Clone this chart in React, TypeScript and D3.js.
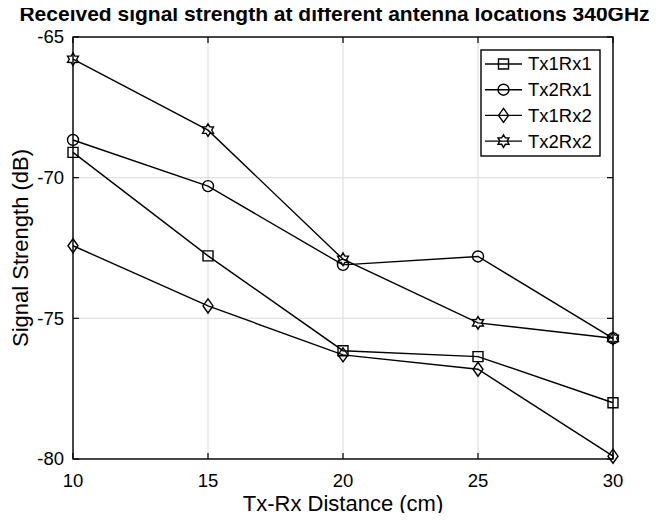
import * as d3 from 'd3';
import { useRef, useEffect } from 'react';

const distances = [10, 15, 20, 25, 30];
const seriesNames = ['Tx1Rx1', 'Tx2Rx1', 'Tx1Rx2', 'Tx2Rx2'];
const markerKinds = ['square', 'circle', 'diamond', 'hexagram'];
const tx1rx1 = [-69.1, -72.78, -76.15, -76.36, -78.0];
const tx2rx1 = [-68.66, -70.3, -73.1, -72.8, -75.71];
const tx1rx2 = [-72.42, -74.56, -76.3, -76.81, -79.9];
const tx2rx2 = [-65.79, -68.31, -72.9, -75.16, -75.71];
const xTicks = [10, 15, 20, 25, 30];
const yTicks = [-65, -70, -75, -80];

const FONT = '"Liberation Sans", Arial, Helvetica, sans-serif';

// chemin d'un marqueur centré sur (0,0)
const markerPath = (kind: string): string => {
  if (kind === 'square') return 'M-5,-5H5V5H-5Z';
  if (kind === 'circle') return 'M5.5,0A5.5,5.5 0 1,1 -5.5,0A5.5,5.5 0 1,1 5.5,0Z';
  if (kind === 'diamond') return 'M0,-7L5,0L0,7L-5,0Z';
  // hexagramme : étoile à six branches
  const pts: string[] = [];
  for (let i = 0; i < 12; i++) {
    const r = i % 2 === 0 ? 6.3 : 3.7;
    const a = (Math.PI / 6) * i - Math.PI / 2;
    pts.push(`${(r * Math.cos(a)).toFixed(2)},${(r * Math.sin(a)).toFixed(2)}`);
  }
  return `M${pts.join('L')}Z`;
};

export default function App() {
  const svgRef = useRef<SVGSVGElement | null>(null);

  useEffect(() => {
    const width = 663;
    const height = 521;
    const margin = { top: 37, right: 50, bottom: 62, left: 73 };
    const innerWidth = width - margin.left - margin.right;
    const innerHeight = height - margin.top - margin.bottom;

    const root = d3.select(svgRef.current);
    root.selectAll('*').remove();
    root.attr('width', width).attr('height', height);

    root
      .append('rect')
      .attr('width', width)
      .attr('height', height)
      .attr('fill', '#fff');

    const svg = root.append('g').attr('transform', `translate(${margin.left},${margin.top})`);

    const x = d3.scaleLinear().domain([10, 30]).range([0, innerWidth]);
    const y = d3.scaleLinear().domain([-80, -65]).range([innerHeight, 0]);

    // Grille
    xTicks.forEach((v) => {
      svg
        .append('line')
        .attr('x1', x(v))
        .attr('x2', x(v))
        .attr('y1', 0)
        .attr('y2', innerHeight)
        .attr('stroke', '#e0e0e0')
        .attr('stroke-width', 1.2);
    });
    yTicks.forEach((v) => {
      svg
        .append('line')
        .attr('x1', 0)
        .attr('x2', innerWidth)
        .attr('y1', y(v))
        .attr('y2', y(v))
        .attr('stroke', '#e0e0e0')
        .attr('stroke-width', 1.2);
    });

    // Marques des axes (vers l'intérieur)
    xTicks.forEach((v) => {
      [
        [innerHeight, innerHeight - 6],
        [0, 6],
      ].forEach(([a, b]) => {
        svg
          .append('line')
          .attr('x1', x(v))
          .attr('x2', x(v))
          .attr('y1', a)
          .attr('y2', b)
          .attr('stroke', '#000')
          .attr('stroke-width', 1.2);
      });
      svg
        .append('text')
        .attr('x', x(v))
        .attr('y', innerHeight + 28)
        .attr('text-anchor', 'middle')
        .attr('font-family', FONT)
        .attr('font-size', '18.5px')
        .attr('fill', '#000')
        .text(`${v}`);
    });
    yTicks.forEach((v) => {
      [
        [0, 6],
        [innerWidth, innerWidth - 6],
      ].forEach(([a, b]) => {
        svg
          .append('line')
          .attr('x1', a)
          .attr('x2', b)
          .attr('y1', y(v))
          .attr('y2', y(v))
          .attr('stroke', '#000')
          .attr('stroke-width', 1.2);
      });
      svg
        .append('text')
        .attr('x', -9)
        .attr('y', y(v))
        .attr('dy', '0.35em')
        .attr('text-anchor', 'end')
        .attr('font-family', FONT)
        .attr('font-size', '18.5px')
        .attr('fill', '#000')
        .text(`${v}`);
    });

    // Cadre
    svg
      .append('rect')
      .attr('x', 0)
      .attr('y', 0)
      .attr('width', innerWidth)
      .attr('height', innerHeight)
      .attr('fill', 'none')
      .attr('stroke', '#000')
      .attr('stroke-width', 1.4);

    // Séries
    const allSeries = [tx1rx1, tx2rx1, tx1rx2, tx2rx2];
    const line = d3
      .line<number>()
      .x((_, i) => x(distances[i]))
      .y((d) => y(d));

    allSeries.forEach((vals, s) => {
      svg
        .append('path')
        .attr('d', line(vals))
        .attr('fill', 'none')
        .attr('stroke', '#000')
        .attr('stroke-width', 1.4);
      vals.forEach((v, i) => {
        svg
          .append('path')
          .attr('d', markerPath(markerKinds[s]))
          .attr('transform', `translate(${x(distances[i])},${y(v)})`)
          .attr('fill', 'none')
          .attr('stroke', '#000')
          .attr('stroke-width', 1.4);
      });
    });

    // Légende
    const lg = root.append('g').attr('transform', 'translate(481,50)');
    lg.append('rect')
      .attr('width', 119)
      .attr('height', 106)
      .attr('fill', '#fff')
      .attr('stroke', '#000')
      .attr('stroke-width', 1.4);
    seriesNames.forEach((name, i) => {
      const cy = 14 + i * 25.7;
      lg.append('line')
        .attr('x1', 4)
        .attr('x2', 41)
        .attr('y1', cy)
        .attr('y2', cy)
        .attr('stroke', '#000')
        .attr('stroke-width', 1.4);
      lg.append('path')
        .attr('d', markerPath(markerKinds[i]))
        .attr('transform', `translate(22.5,${cy})`)
        .attr('fill', 'none')
        .attr('stroke', '#000')
        .attr('stroke-width', 1.4);
      lg.append('text')
        .attr('x', 47)
        .attr('y', cy)
        .attr('dy', '0.35em')
        .attr('font-family', FONT)
        .attr('font-size', '18.5px')
        .attr('fill', '#000')
        .text(name);
    });

    // Titres
    root
      .append('text')
      .attr('x', 334.5)
      .attr('y', 21)
      .attr('text-anchor', 'middle')
      .attr('font-family', FONT)
      .attr('font-size', '21px')
      .attr('font-weight', 'bold')
      .attr('fill', '#000')
      .text('Received signal strength at different antenna locations 340GHz');

    root
      .append('text')
      .attr('x', margin.left + innerWidth / 2)
      .attr('y', 511)
      .attr('text-anchor', 'middle')
      .attr('font-family', FONT)
      .attr('font-size', '22px')
      .attr('fill', '#000')
      .text('Tx-Rx Distance (cm)');

    root
      .append('text')
      .attr('transform', `translate(28,${margin.top + innerHeight / 2}) rotate(-90)`)
      .attr('text-anchor', 'middle')
      .attr('font-family', FONT)
      .attr('font-size', '22px')
      .attr('fill', '#000')
      .text('Signal Strength (dB)');
  }, []);

  return (
    <div style={{ width: 663, height: 521, margin: -8 }}>
      <svg ref={svgRef} style={{ display: 'block' }} />
    </div>
  );
}
